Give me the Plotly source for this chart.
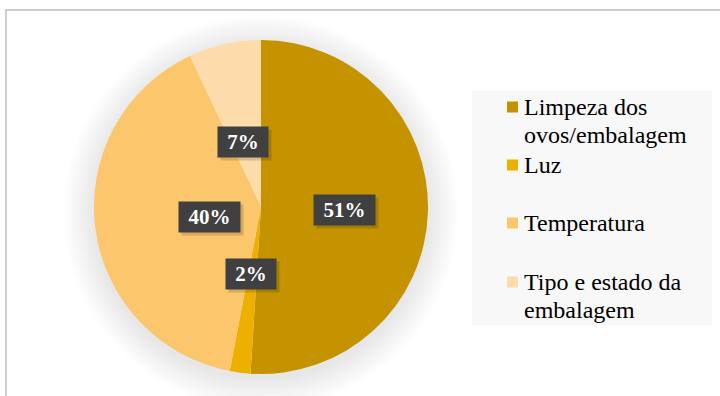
import math
import plotly.graph_objects as go

# ---- data ----
categories = ["Limpeza dos ovos/embalagem", "Luz", "Temperatura", "Tipo e estado da embalagem"]
legend_lines = [["Limpeza dos", "ovos/embalagem"], ["Luz"], ["Temperatura"], ["Tipo e estado da", "embalagem"]]
values = [51, 2, 40, 7]
colors = ["#C59300", "#EDB000", "#FCC66C", "#FDDBAA"]

SERIF = "Liberation Serif, Times New Roman, serif"
W, H = 720, 396
cx, cy, R = 261, 207, 167  # pie center / radius in px

def px(x):
    return x / W

def py(y):
    return 1 - y / H

fig = go.Figure()
fig.add_trace(go.Pie(
    labels=categories, values=values, sort=False, direction="clockwise", rotation=0,
    marker=dict(colors=colors, line=dict(width=0)),
    textinfo="none", hoverinfo="label+percent", showlegend=False,
    domain=dict(x=[px(cx - R), px(cx + R)], y=[py(cy + R), py(cy - R)]),
))

shapes = []
# chart border
shapes.append(dict(type="rect", xref="paper", yref="paper", x0=px(6), x1=px(740), y0=py(10), y1=py(420),
                   line=dict(color="#BDBDBD", width=1.5), fillcolor="rgba(0,0,0,0)", layer="below"))
# soft shadow behind pie
for i in range(12):
    r = R + 30 - i * 2.6
    shapes.append(dict(type="circle", xref="paper", yref="paper",
                       x0=px(cx - r), x1=px(cx + r), y0=py(cy + 5 + r), y1=py(cy + 5 - r),
                       line=dict(width=0), fillcolor="rgba(0,0,0,0.008)", layer="below"))
# legend box
shapes.append(dict(type="rect", xref="paper", yref="paper", x0=px(472), x1=px(712), y0=py(91), y1=py(325),
                   line=dict(width=0), fillcolor="#F8F8F8", layer="below"))

annotations = []
# data labels from pie geometry
total = sum(values)
cum = 0
for v in values:
    mid = (cum + v / 2) / total * 2 * math.pi
    cum += v
    lx = cx + 0.5 * R * math.sin(mid)
    ly = cy - 0.5 * R * math.cos(mid)
    txt = f"{round(v / total * 100)}%"
    wbox = 48 if len(txt) == 2 else 59
    annotations.append(dict(x=px(lx + 3), y=py(ly + 3), xref="paper", yref="paper", text=" ",
                            showarrow=False, width=wbox, height=28, bgcolor="rgba(0,0,0,0.15)"))
    annotations.append(dict(x=px(lx), y=py(ly), xref="paper", yref="paper",
                            text=f"<b>{txt}</b>", showarrow=False, width=wbox, height=28,
                            bgcolor="#404040", font=dict(family=SERIF, size=21, color="white")))

# custom legend
sq_y = [107, 165, 223, 282]
for i, lines in enumerate(legend_lines):
    shapes.append(dict(type="rect", xref="paper", yref="paper", x0=px(507), x1=px(518),
                       y0=py(sq_y[i] + 5.5), y1=py(sq_y[i] - 5.5), line=dict(width=0), fillcolor=colors[i]))
    for j, line in enumerate(lines):
        annotations.append(dict(x=px(522), y=py(sq_y[i] + j * 28), xref="paper", yref="paper",
                                xanchor="left", yanchor="middle", text=line, showarrow=False,
                                font=dict(family=SERIF, size=24, color="black")))

fig.update_layout(
    width=W, height=H, margin=dict(l=0, r=0, t=0, b=0),
    paper_bgcolor="white", plot_bgcolor="white",
    shapes=shapes, annotations=annotations, showlegend=False,
)
fig.write_html("out.html", config={"displayModeBar": False},
               post_script="document.body.style.margin='0';document.body.style.overflow='hidden';")
